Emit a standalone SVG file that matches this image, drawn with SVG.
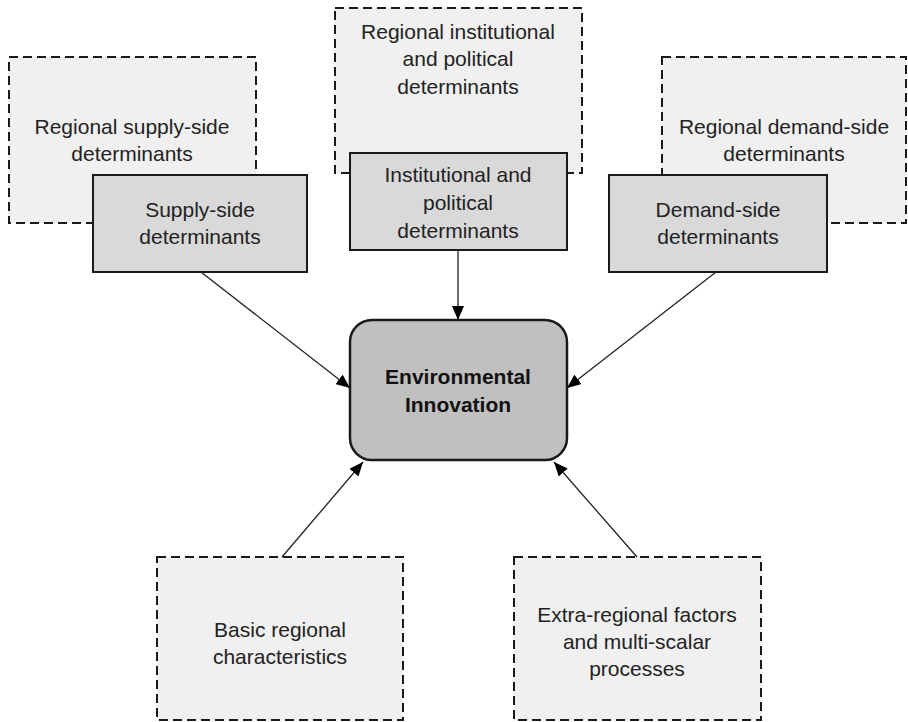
<svg xmlns="http://www.w3.org/2000/svg" width="908" height="722" viewBox="0 0 908 722">
<style>
.dash{fill:#f0f0f0;stroke:#1a1a1a;stroke-width:2;stroke-dasharray:9 5}
.solid{fill:#d9d9d9;stroke:#1a1a1a;stroke-width:2}
.main{fill:#c0c0c0;stroke:#1a1a1a;stroke-width:2.5}
text{font-family:"Liberation Sans",Arial,sans-serif;font-size:21px;fill:#222;text-anchor:middle}
.b{font-weight:bold;fill:#111}
.conn line{stroke:#222;stroke-width:1.3;marker-end:url(#ah)}
</style>
<defs>
<marker id="ah" markerUnits="userSpaceOnUse" markerWidth="14" markerHeight="12" viewBox="0 0 14 12" refX="14" refY="6" orient="auto">
<path d="M0,0 L14,6 L0,12 Z" fill="#000"/>
</marker>
</defs>
<rect width="908" height="722" fill="#fff"/>
<g id="regional-supply">
<rect class="dash" x="9" y="57" width="247" height="166"/>
<text x="132" y="134">Regional supply-side</text>
<text x="132" y="161">determinants</text>
</g>
<g id="regional-institutional">
<rect class="dash" x="335" y="8" width="247" height="165"/>
<text x="458" y="39">Regional institutional</text>
<text x="458" y="66">and political</text>
<text x="458" y="94">determinants</text>
</g>
<g id="regional-demand">
<rect class="dash" x="662" y="57" width="244" height="166"/>
<text x="784" y="134">Regional demand-side</text>
<text x="784" y="161">determinants</text>
</g>
<g id="supply">
<rect class="solid" x="93" y="175" width="214" height="97"/>
<text x="200" y="217">Supply-side</text>
<text x="200" y="244">determinants</text>
</g>
<g id="institutional">
<rect class="solid" x="350" y="153" width="217" height="97"/>
<text x="458" y="182">Institutional and</text>
<text x="458" y="210">political</text>
<text x="458" y="238">determinants</text>
</g>
<g id="demand">
<rect class="solid" x="609" y="175" width="218" height="97"/>
<text x="718" y="217">Demand-side</text>
<text x="718" y="244">determinants</text>
</g>
<g id="environmental-innovation">
<rect class="main" x="350" y="320" width="217" height="140" rx="22" ry="22"/>
<text class="b" x="458" y="384">Environmental</text>
<text class="b" x="458" y="412">Innovation</text>
</g>
<g id="basic-regional">
<rect class="dash" x="157" y="557" width="246" height="163"/>
<text x="280" y="637">Basic regional</text>
<text x="280" y="664">characteristics</text>
</g>
<g id="extra-regional">
<rect class="dash" x="514" y="557" width="247" height="163"/>
<text x="637" y="622">Extra-regional factors</text>
<text x="637" y="649">and multi-scalar</text>
<text x="637" y="676">processes</text>
</g>
<g class="conn" id="connectors">
<line x1="201" y1="272" x2="350" y2="388"/>
<line x1="458" y1="250" x2="458" y2="320"/>
<line x1="716" y1="272" x2="567" y2="388"/>
<line x1="282" y1="557" x2="363" y2="462"/>
<line x1="637" y1="557" x2="554" y2="462"/>
</g>
</svg>
